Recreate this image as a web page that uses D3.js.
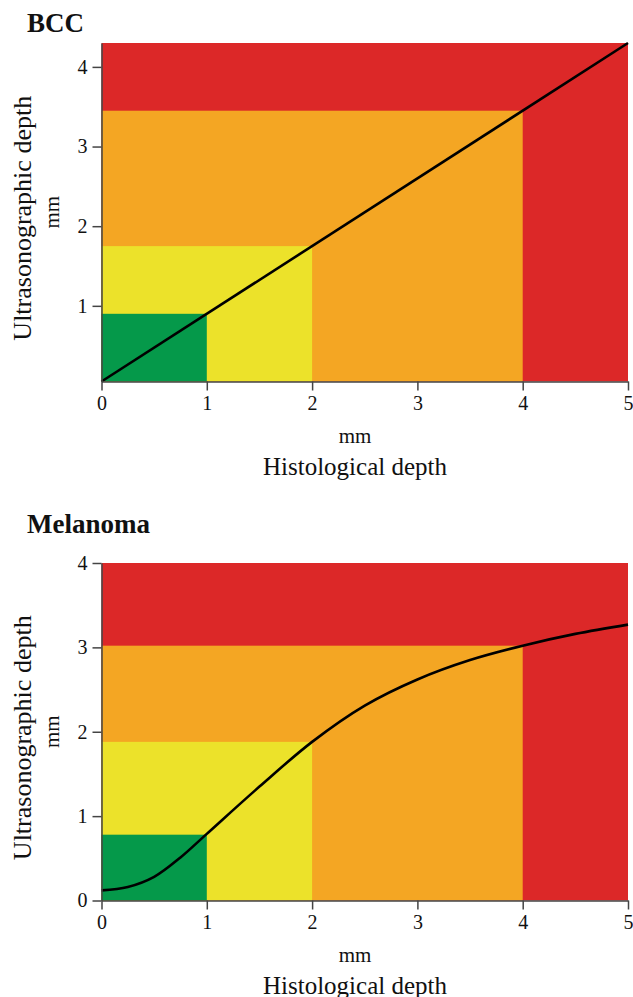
<!DOCTYPE html>
<html>
<head>
<meta charset="utf-8">
<script src="https://cdn.jsdelivr.net/npm/d3@7"></script>
<style>
  html, body { margin: 0; padding: 0; background: #fff; }
  svg { display: block; }
  text { font-family: "Liberation Serif", "Times New Roman", serif; fill: #111; }
</style>
</head>
<body>
<script>
// ---------- data ----------
const xTicks = [0, 1, 2, 3, 4, 5];
const bccYTicks = [1, 2, 3, 4];
const melYTicks = [0, 1, 2, 3, 4];
// histological depth boundaries of the zones (green, yellow, orange)
const zoneXBounds = [1, 2, 4];
const zoneColors = ["#05994a", "#ece22a", "#f4a623", "#dc2828"]; // green, yellow, orange, red
// ultrasonographic depth upper bounds of the zones (green, yellow, orange)
const bccZoneY = [0.9, 1.75, 3.45];
const melZoneY = [0.78, 1.88, 3.02];
const bccYDomain = [0.05, 4.3];
const melYDomain = [0, 4];
// BCC regression line
const bccLineX = [0, 5];
const bccLineY = [0.05, 4.3];
// Melanoma regression curve
const melCurveX = [0, 0.25, 0.5, 0.75, 1, 1.5, 2, 2.5, 3, 3.5, 4, 4.5, 5];
const melCurveY = [0.12, 0.16, 0.28, 0.51, 0.79, 1.35, 1.88, 2.31, 2.62, 2.85, 3.02, 3.16, 3.27];

const W = 633, H = 997;
const svg = d3.select("body").append("svg").attr("width", W).attr("height", H);

function drawPanel(opt) {
  const x = d3.scaleLinear().domain([0, 5]).range([opt.left, opt.right]);
  const y = d3.scaleLinear().domain(opt.yDomain).range([opt.bottom, opt.top]);
  const g = svg.append("g");
  const y0 = opt.yDomain[0], y1 = opt.yDomain[1];

  // red background
  g.append("rect").attr("x", x(0)).attr("y", y(y1))
    .attr("width", x(5) - x(0)).attr("height", y(y0) - y(y1)).attr("fill", zoneColors[3]);
  // orange, yellow, green (drawn largest first)
  for (let i = 2; i >= 0; i--) {
    g.append("rect").attr("x", x(0)).attr("y", y(opt.zoneY[i]))
      .attr("width", x(zoneXBounds[i]) - x(0))
      .attr("height", y(y0) - y(opt.zoneY[i]))
      .attr("fill", zoneColors[i]);
  }

  // curve
  const pts = opt.lx.map((v, i) => [v, opt.ly[i]]);
  g.append("path").datum(pts)
    .attr("fill", "none").attr("stroke", "#000").attr("stroke-width", 2.6)
    .attr("d", d3.line().x(d => x(d[0])).y(d => y(d[1])).curve(d3.curveCatmullRom.alpha(0.5)));

  // axes
  const xa = g.append("g").attr("transform", `translate(0,${opt.bottom})`)
    .call(d3.axisBottom(x).tickValues(xTicks).tickFormat(d3.format("d")).tickSize(9).tickSizeOuter(0).tickPadding(5));
  const ya = g.append("g").attr("transform", `translate(${opt.left},0)`)
    .call(d3.axisLeft(y).tickValues(opt.yTicks).tickFormat(d3.format("d")).tickSize(9).tickSizeOuter(0).tickPadding(5));
  [xa, ya].forEach(a => {
    a.selectAll("path,line").attr("stroke", "#444").attr("stroke-width", 1.5);
    a.selectAll("text").attr("font-size", 20).attr("fill", "#111")
      .attr("font-family", '"Liberation Serif", "Times New Roman", serif');
  });

  // title
  svg.append("text").attr("x", 27).attr("y", opt.titleY)
    .attr("font-size", 27).attr("font-weight", "bold").text(opt.title);

  // x-axis labels
  const cx = 355;
  svg.append("text").attr("x", cx).attr("y", opt.bottom + 61).attr("text-anchor", "middle")
    .attr("font-size", 21).text("mm");
  svg.append("text").attr("x", cx).attr("y", opt.bottom + 93).attr("text-anchor", "middle")
    .attr("font-size", 25).text("Histological depth");

  // y-axis labels
  const cy = (opt.top + opt.bottom) / 2;
  svg.append("text").attr("transform", `translate(31,${cy + 6}) rotate(-90)`)
    .attr("text-anchor", "middle").attr("font-size", 26).text("Ultrasonographic depth");
  svg.append("text").attr("transform", `translate(59,${cy}) rotate(-90)`)
    .attr("text-anchor", "middle").attr("font-size", 21).text("mm");
}

drawPanel({
  title: "BCC", titleY: 32,
  left: 101.5, right: 628, top: 43, bottom: 381.5,
  yDomain: bccYDomain, yTicks: bccYTicks, zoneY: bccZoneY,
  lx: bccLineX, ly: bccLineY
});

drawPanel({
  title: "Melanoma", titleY: 533,
  left: 101.5, right: 628, top: 563, bottom: 900.5,
  yDomain: melYDomain, yTicks: melYTicks, zoneY: melZoneY,
  lx: melCurveX, ly: melCurveY
});
</script>
</body>
</html>
